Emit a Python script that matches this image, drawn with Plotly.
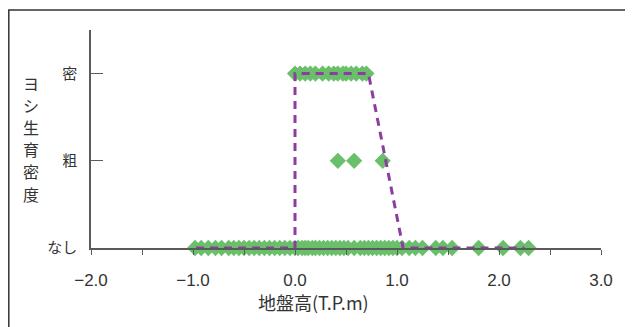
import plotly.graph_objects as go

# Data
none_x = [-0.98, -0.92, -0.85, -0.78, -0.72, -0.65, -0.60, -0.55, -0.50, -0.45, -0.40,
          -0.35, -0.30, -0.25, -0.20, -0.15, -0.10, -0.05, 0.00, 0.03, 0.07, 0.10, 0.13,
          0.17, 0.20, 0.24, 0.28, 0.32, 0.36, 0.40, 0.44, 0.48, 0.52, 0.58, 0.64, 0.68,
          0.72, 0.76, 0.80, 0.84, 0.88, 0.92, 0.96, 1.00, 1.05, 1.12, 1.18, 1.25, 1.38,
          1.45, 1.54, 1.80, 2.04, 2.21, 2.29]
sparse_x = [0.42, 0.58, 0.86]
dense_x = [0.00, 0.05, 0.10, 0.15, 0.20, 0.27, 0.33, 0.38, 0.42, 0.47, 0.50, 0.55,
           0.60, 0.66, 0.70]
line_x = [-0.97, 0.00, 0.00, 0.72, 1.06, 2.25]
line_y = [0, 0, 2, 2, 0, 0]
ytick_vals = [0, 1, 2]
ytick_text = ["なし", "粗", "密"]
xtick_vals = [-2, -1, 0, 1, 2, 3]
ytitle_chars = ["ヨ", "シ", "生", "育", "密", "度"]
xtitle = "地盤高(T.P.m)"

GREEN = "#6abf6a"
PURPLE = "#8c3d9f"
AX = "#5a5a5a"
TXT = "#333333"
FONT = "Noto Sans CJK JP"
NUMFONT = "Liberation Sans Narrow, Liberation Sans, sans-serif"

# page offset of the body margin (8px)
OFF = 8
PL, PR, PT, PB = 91, 601, 30, 248   # plot area in page pixels
PW, PH = PR - PL, PB - PT


def px(xp):
    return (xp - PL) / PW


def py(yp):
    return (PB - yp) / PH


pts_x = none_x + sparse_x + dense_x
pts_y = [0] * len(none_x) + [1] * len(sparse_x) + [2] * len(dense_x)

fig = go.Figure()
fig.add_trace(go.Scatter(x=pts_x, y=pts_y, mode="markers",
                         marker=dict(symbol="diamond", size=12.5, color=GREEN,
                                     line=dict(width=0)),
                         cliponaxis=False, showlegend=False))
fig.add_trace(go.Scatter(x=line_x, y=line_y, mode="lines",
                         line=dict(color=PURPLE, width=3, dash="8px,6px"),
                         cliponaxis=False, showlegend=False))

annotations = []
for i, ch in enumerate(ytitle_chars):
    annotations.append(dict(text=ch, xref="paper", yref="paper",
                            x=px(31), y=py(82.5 + 22.2 * i),
                            xanchor="center", yanchor="middle", showarrow=False,
                            borderpad=0,
                            font=dict(family=FONT, size=16, color=TXT)))
annotations.append(dict(text=xtitle, xref="paper", yref="paper",
                        x=px(313), y=py(302), xanchor="center", yanchor="middle",
                        showarrow=False, font=dict(family=FONT, size=18, color=TXT)))

fig.update_layout(
    width=633 - OFF, height=327 - OFF,
    margin=dict(l=PL - OFF, r=633 - PR, t=PT - OFF, b=327 - PB, autoexpand=False),
    paper_bgcolor="white", plot_bgcolor="white",
    font=dict(family=FONT, color=TXT),
    xaxis=dict(range=[-2, 3], tickvals=xtick_vals, tickformat=".1f",
               showline=True, linecolor=AX, linewidth=1.5,
               ticks="outside", ticklen=5, tickcolor=AX, tickwidth=1.2,
               minor=dict(dtick=0.5, ticks="outside", ticklen=5, tickcolor=AX, tickwidth=1.2),
               showgrid=False, zeroline=False, automargin=False,
               tickfont=dict(family=NUMFONT, size=17, color=TXT),
               ticklabelstandoff=11),
    yaxis=dict(range=[0, 2.5], tickvals=ytick_vals, ticktext=ytick_text,
               showline=True, linecolor=AX, linewidth=1.5,
               ticks="inside", ticklen=12, tickcolor=AX, tickwidth=1.2,
               showgrid=False, zeroline=False, automargin=False,
               tickfont=dict(family=FONT, size=15, color=TXT),
               ticklabelstandoff=9),
    shapes=[dict(type="rect", xref="paper", yref="paper",
                 x0=px(8.8), x1=px(627),
                 y0=-0.6, y1=py(10),
                 line=dict(color=TXT, width=1.5), layer="below")],
    annotations=annotations,
)

fig.write_html("out.html")
